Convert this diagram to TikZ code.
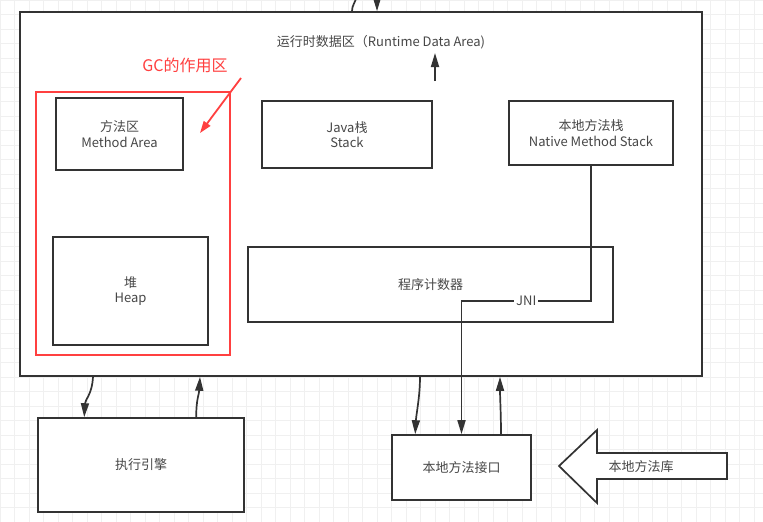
\documentclass[tikz,border=0pt]{standalone}
\usepackage{fontspec}
\newfontfamily\cjk{Noto Sans CJK SC}
\usetikzlibrary{arrows.meta}

\begin{document}
\begin{tikzpicture}[
    x=1pt, y=-1pt,
    font=\cjk\fontsize{13}{15.5}\selectfont,
    every node/.append style={text=black!72},
    box/.style={draw=black!80, line width=1.6pt, fill=white, align=center, inner sep=0pt},
    line/.style={draw=black!80, line width=1.7pt},
    link/.style={line, -{Triangle[length=14pt,width=8pt]}},
    gc/.style={draw=red!75, line width=1.8pt}
  ]
  \useasboundingbox (0,0) rectangle (763,522);
  \draw[black!6, step=14.5pt] (0,0) grid (763,522);

  % runtime data area
  \node[box, minimum width=682pt, minimum height=364pt] (rda) at (361,194) {};
  \node (title) at (381,42) {运行时数据区（Runtime Data Area)};
  \node[box, minimum width=127pt, minimum height=72pt] (method) at (119.5,134) {方法区\\Method Area};
  \node[box, minimum width=170pt, minimum height=67pt] (stack) at (347,134.5) {Java栈\\Stack};
  \node[box, minimum width=164pt, minimum height=64pt] (nstack) at (591,133) {本地方法栈\\Native Method Stack};
  \node[box, minimum width=155pt, minimum height=108pt] (heap) at (130.5,291) {堆\\Heap};
  \node[box, minimum width=365pt, minimum height=75pt] (pc) at (430.5,284.5) {程序计数器};
  \node[gc, minimum width=194pt, minimum height=263pt] (gcbox) at (133,223.5) {};
  \node[text=red!75, font=\cjk\fontsize{16}{18}\selectfont] (gclabel) at (185,65) {GC的作用区};

  % outside
  \node[box, minimum width=206pt, minimum height=94pt] (engine) at (141,465) {执行引擎};
  \node[box, minimum width=139pt, minimum height=65pt] (nif) at (461.5,467.5) {本地方法接口};
  \draw[line, fill=white] (559,466) -- (597,430) -- (597,453) -- (727,453)
    -- (727,479) -- (597,479) -- (597,503) -- cycle;
  \node (nlib) at (641,467) {本地方法库};

  % free ends
  \coordinate (in1) at (377,-2);
  \coordinate (out1) at (356,-1);
  \coordinate (t1) at (435,81);
  \coordinate (t2) at (435,53);
  \coordinate (g1) at (241,78);
  \coordinate (g2) at (200,133);

  \draw[link] (in1) -- ([xshift=16pt]rda.north);
  \draw[line] ([xshift=-9pt]rda.north) .. controls +(0,-6) and +(-1,4) .. (out1);
  \draw[link] (t1) -- (t2);
  \draw[gc, -{Triangle[length=12pt,width=8pt]}] (g1) -- (g2);

  \draw[link] ([xshift=-268pt]rda.south) .. controls +(-1,18) and +(1,-18) .. ([xshift=47pt]engine.north west);
  \draw[link] ([xshift=159pt]engine.north west) .. controls +(0,-18) and +(-1,18) .. ([xshift=-161pt]rda.south);
  \draw[link] ([xshift=59pt]rda.south) .. controls +(0,20) and +(1,-20) .. ([xshift=24pt]nif.north west);
  \draw[link] (nstack.south) -- ++(0,135) -| node[pos=0.25, fill=white, inner sep=2pt] {JNI} (nif.north);
  \draw[link] ([xshift=39.5pt]nif.north) .. controls +(0,-20) and +(0,20) .. ([xshift=139pt]rda.south);
\end{tikzpicture}
\end{document}
